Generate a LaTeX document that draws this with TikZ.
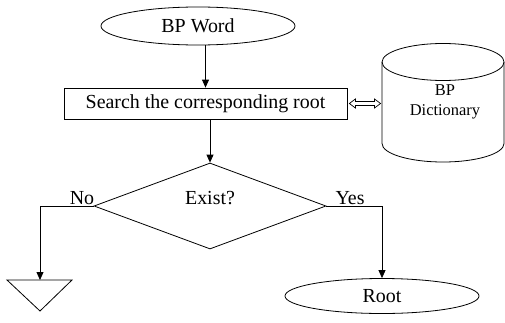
\documentclass[tikz,border=0pt]{standalone}
\usepackage{fontspec}
\setmainfont{Liberation Serif}
\usetikzlibrary{shapes.geometric,arrows.meta,calc}
\begin{document}
\begin{tikzpicture}[x=1bp,y=1bp,
  line width=0.8bp,
  every node/.style={font=\fontsize{20}{23}\selectfont},
  terminal/.style={draw, ellipse, inner sep=0pt},
  process/.style={draw, rectangle, inner sep=0pt},
  decision/.style={draw, diamond, inner sep=0pt, minimum width=232bp, minimum height=86bp},
  flow/.style={-{Triangle[length=8bp,width=7bp]}},
  plain/.style={inner sep=0pt}]
\useasboundingbox (0,0) rectangle (505,322);

% terminals and process box
\node[terminal, minimum width=194bp, minimum height=38bp] (word) at (198,296) {BP Word};
\node[process, minimum width=283bp, minimum height=31bp] (search) at (205.5,218.5) {Search the corresponding root};
\node[terminal, minimum width=194bp, minimum height=35bp] (root) at (382,26) {Root};

% decision
\node[decision] (exist) at (210,116) {};
\node[plain] (existtext) at (210,124) {Exist?};

% dictionary drum
\draw (382,260) -- (382,178.5) arc[start angle=180, end angle=360, x radius=61, y radius=18.5] -- (504,260);
\draw (443,260) ellipse[x radius=61, y radius=18.5];
\node[plain, font=\fontsize{16.5}{20}\selectfont, align=center] (dict) at (445,220) {BP\\Dictionary};
\coordinate (dictw) at (382,218.5);

% two-way hollow block arrow between the search step and the dictionary
\coordinate (la) at ($(search.east)+(2,0)$);
\coordinate (lb) at ($(dictw)+(-1.5,0)$);
\draw[line width=0.7bp, line join=miter]
  (la) -- ($(la)+(6,4.5)$) -- ($(la)+(6,2)$) -- ($(lb)+(-6,2)$) -- ($(lb)+(-6,4.5)$)
  -- (lb) -- ($(lb)+(-6,-4.5)$) -- ($(lb)+(-6,-2)$) -- ($(la)+(6,-2)$) -- ($(la)+(6,-4.5)$) -- cycle;

% flow connectors
\draw[flow] (search.north |- word.south) -- (search.north);
\draw[flow] (exist.north |- search.south) -- (exist.north);

% "No" branch into the stop triangle
\coordinate (tri) at (40,42);
\draw (7,42) -- (72,42) -- (40,11) -- cycle;
\draw[flow] (exist.west) -| (tri);
\node[plain] (no) at (82,124) {No};

% "Yes" branch into the root terminal
\draw[flow] (exist.east) -| (root.north);
\node[plain] (yes) at (350,124) {Yes};
\end{tikzpicture}
\end{document}
